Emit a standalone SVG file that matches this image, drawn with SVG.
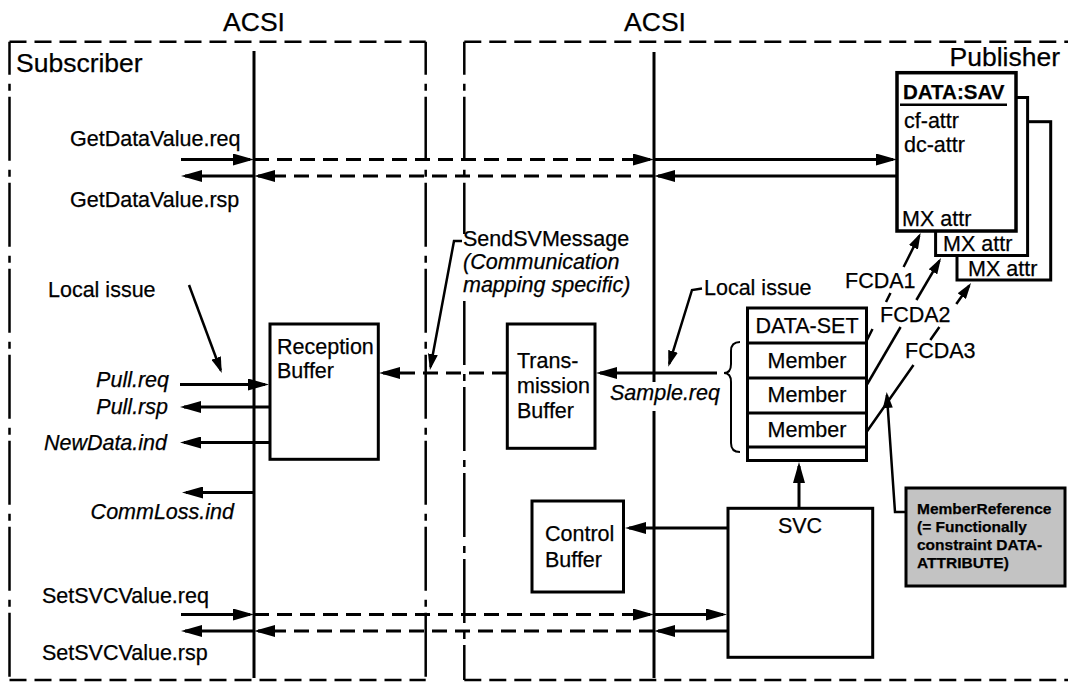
<svg xmlns="http://www.w3.org/2000/svg" width="1068" height="683" viewBox="0 0 1068 683">
<style>
text{font-family:"Liberation Sans",Arial,Helvetica,sans-serif;font-size:21.5px;fill:#000;stroke:#000;stroke-width:0.25}
.big{font-size:26.5px}
.it{font-style:italic}
.bd{font-weight:bold;font-size:20.5px}
.mr{font-size:15.5px;font-weight:bold}
.box{fill:#fff;stroke:#000;stroke-width:3}
.edge{fill:none;stroke:#000;stroke-width:2.5;stroke-dasharray:64 9 7 6;stroke-dashoffset:31}
.top{fill:none;stroke:#000;stroke-width:2.5;stroke-dasharray:17 8}
.acsi{fill:none;stroke:#000;stroke-width:3}
.ln{fill:none;stroke:#000;stroke-width:3;marker-end:url(#a)}
.dl{fill:none;stroke:#000;stroke-width:3;stroke-dasharray:15 8;marker-end:url(#a)}
.pt{fill:none;stroke:#000;stroke-width:2.5;marker-end:url(#s)}
.seg{fill:none;stroke:#000;stroke-width:2.5}
</style>
<defs>
<marker id="a" viewBox="0 0 21 12" refX="17" refY="6" markerWidth="21" markerHeight="12" markerUnits="userSpaceOnUse" orient="auto"><path d="M0,0 L21,6 L0,12 z" fill="#000"/></marker>
<marker id="s" viewBox="0 0 16 10" refX="13" refY="5" markerWidth="16" markerHeight="10" markerUnits="userSpaceOnUse" orient="auto"><path d="M0,0 L16,5 L0,10 z" fill="#000"/></marker>
</defs>
<rect width="1068" height="683" fill="#fff"/>

<g id="subscriber-frame">
<path class="top" d="M9.5,41.7 H425.7 M9.5,680 H425.7"/>
<path class="edge" d="M9.5,41.7 V680"/>
<path class="edge" d="M425.7,41.7 V680"/>
<text class="big" x="16" y="72">Subscriber</text>
</g>
<g id="publisher-frame">
<path class="top" d="M464.3,41.7 H1068 M464.3,680 H1068"/>
<path class="edge" d="M464.3,41.7 V234"/>
<path class="edge" d="M464.3,301 V680" style="stroke-dashoffset:0"/>
<text class="big" x="1060" y="66" text-anchor="end">Publisher</text>
</g>

<g id="acsi">
<text class="big" x="254" y="31" text-anchor="middle">ACSI</text>
<text class="big" x="655" y="31" text-anchor="middle">ACSI</text>
<path class="acsi" d="M254,51 V678 M654,52 V382 M654,411 V678"/>
</g>

<g id="reception-buffer">
<rect class="box" x="270" y="324" width="108.3" height="135.3"/>
<text x="277" y="354">Reception</text>
<text x="277" y="378">Buffer</text>
</g>

<g id="transmission-buffer">
<rect class="box" x="507.3" y="324" width="87.7" height="124.3"/>
<text x="517" y="368">Trans-</text>
<text x="517" y="393">mission</text>
<text x="517" y="418">Buffer</text>
</g>

<g id="data-set">
<rect class="box" x="747.5" y="308" width="119" height="152.5"/>
<path d="M747.5,343 H866.5 M747.5,378 H866.5 M747.5,413 H866.5 M747.5,447 H866.5" stroke="#000" stroke-width="3" fill="none"/>
<text x="807" y="333" text-anchor="middle">DATA-SET</text>
<text x="807" y="368" text-anchor="middle">Member</text>
<text x="807" y="402" text-anchor="middle">Member</text>
<text x="807" y="437" text-anchor="middle">Member</text>
<path d="M740,342 Q731,342 731,351 L731,364 Q731,373 724,373 Q731,373 731,382 L731,443 Q731,452 740,452" fill="none" stroke="#000" stroke-width="2"/>
</g>

<g id="data-sav">
<rect class="box" x="957" y="121.7" width="93.7" height="158.3"/>
<rect class="box" x="935.6" y="97.5" width="92" height="158"/>
<rect class="box" x="897" y="72.7" width="119" height="158.3" style="stroke-width:3.5"/>
<path d="M900,104.8 H1007" stroke="#000" stroke-width="2.5"/>
<text class="bd" x="903" y="98.5">DATA:SAV</text>
<text x="904" y="128">cf-attr</text>
<text x="904" y="152">dc-attr</text>
<text x="902" y="225.5">MX attr</text>
<text x="943" y="251">MX attr</text>
<text x="968" y="276">MX attr</text>
</g>

<g id="svc">
<rect class="box" x="728" y="508.3" width="144.7" height="149"/>
<text x="800" y="533" text-anchor="middle">SVC</text>
</g>

<g id="control-buffer">
<rect class="box" x="532" y="501" width="91.5" height="91"/>
<text x="545" y="541">Control</text>
<text x="545" y="567">Buffer</text>
</g>

<g id="member-reference">
<rect x="906" y="488" width="159" height="98" fill="#c3c3c3" stroke="#000" stroke-width="3"/>
<text class="mr" x="917" y="514">MemberReference</text>
<text class="mr" x="917" y="532">(= Functionally</text>
<text class="mr" x="917" y="550">constraint DATA-</text>
<text class="mr" x="917" y="568">ATTRIBUTE)</text>
</g>

<g id="labels">
<text x="70" y="146">GetDataValue.req</text>
<text x="70" y="207">GetDataValue.rsp</text>
<text x="48" y="296.5">Local issue</text>
<text class="it" x="169" y="387" text-anchor="end">Pull.req</text>
<text class="it" x="168" y="414" text-anchor="end">Pull.rsp</text>
<text class="it" x="167" y="450" text-anchor="end">NewData.ind</text>
<text class="it" x="234" y="519" text-anchor="end">CommLoss.ind</text>
<text x="42" y="603">SetSVCValue.req</text>
<text x="42" y="660">SetSVCValue.rsp</text>
<text x="463" y="246">SendSVMessage</text>
<text class="it" x="463" y="269">(Communication</text>
<text class="it" x="463" y="292">mapping specific)</text>
<text x="704" y="295">Local issue</text>
<text class="it" x="610" y="400">Sample.req</text>
<text x="845" y="287.5">FCDA1</text>
<text x="880" y="322">FCDA2</text>
<text x="905" y="358">FCDA3</text>
</g>

<g id="connectors">
<path class="ln" d="M181,159.5 H250"/>
<path class="dl" d="M254,159.5 H650"/>
<path class="ln" d="M654,159.5 H893"/>
<path class="ln" d="M896,176 H658"/>
<path class="dl" d="M654,176 H258"/>
<path class="ln" d="M254,176 H185"/>

<path class="ln" d="M180,384.5 H265"/>
<path class="ln" d="M269,407 H184"/>
<path class="ln" d="M269,442.5 H184"/>
<path class="ln" d="M254,492.5 H186"/>

<path class="dl" d="M507,373 H383"/>
<path class="ln" d="M717,373 H600"/>

<path class="ln" d="M799,508 V466"/>
<path class="ln" d="M728,528 H629"/>

<path class="ln" d="M181,614.5 H250"/>
<path class="dl" d="M254,614.5 H650"/>
<path class="ln" d="M654,614.5 H723"/>
<path class="ln" d="M727,631 H658"/>
<path class="dl" d="M654,631 H258"/>
<path class="ln" d="M254,631 H185"/>

<path class="pt" d="M189,285 L220.7,370.2"/>
<path class="pt" d="M462,241 L454,241 L430.5,367"/>
<path class="pt" d="M702,288.5 L692,290 L669.2,363.8"/>
<path class="pt" d="M906,512 H895 L886.9,395"/>

<path class="seg" d="M867,340 L872.5,329 M886,302 L890.5,293"/>
<path class="pt" d="M903.6,267 L919.3,235.7"/>
<path class="seg" d="M866.7,385 L900.6,327"/>
<path class="pt" d="M916.4,300 L939.5,260.6"/>
<path class="seg" d="M866.7,431.7 L913.5,365 M930.3,340 L939.4,327"/>
<path class="pt" d="M956.3,304 L969.3,285.5"/>
</g>
</svg>
